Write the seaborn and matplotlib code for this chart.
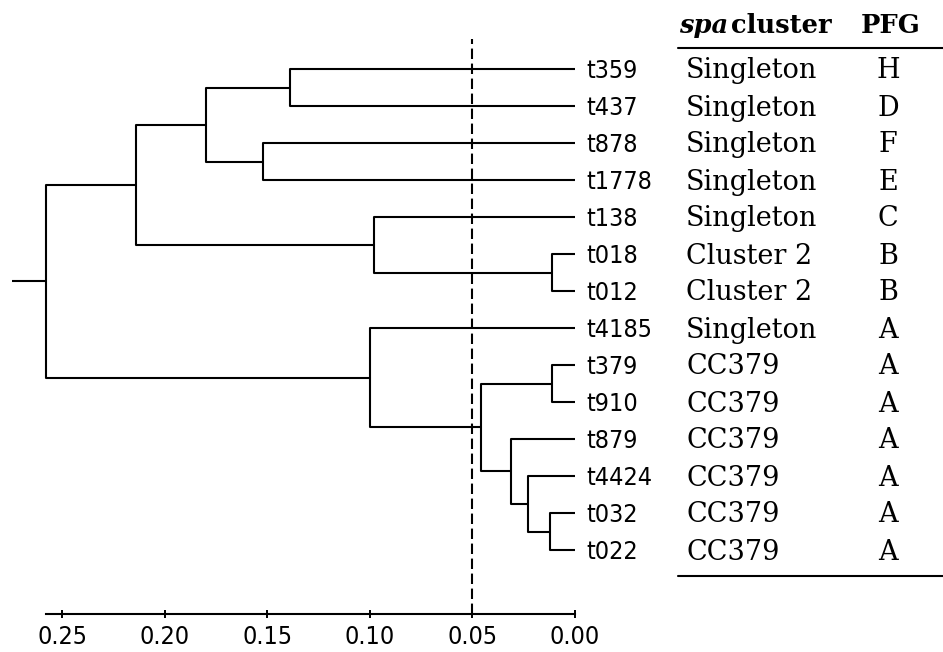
import numpy as np
import pandas as pd
import matplotlib
matplotlib.use("Agg")
import matplotlib.pyplot as plt
import matplotlib.transforms as mtransforms
from matplotlib.lines import Line2D
import seaborn as sns

# ---------------- data ----------------
leaves = ["t359", "t437", "t878", "t1778", "t138", "t018", "t012",
          "t4185", "t379", "t910", "t879", "t4424", "t032", "t022"]
# merges: children are leaf names or "n<k>" (earlier merge), heights = distance
merge_left = ["t359", "t878", "n0", "t018", "t138", "n2",
              "t379", "t032", "t4424", "t879", "n6", "t4185", "n5"]
merge_right = ["t437", "t1778", "n1", "t012", "n3", "n4",
               "t910", "t022", "n7", "n8", "n9", "n10", "n11"]
merge_height = [0.139, 0.152, 0.180, 0.011, 0.098, 0.214,
                0.011, 0.012, 0.023, 0.031, 0.046, 0.100, 0.258]
spa_cluster = ["Singleton", "Singleton", "Singleton", "Singleton", "Singleton",
               "Cluster 2", "Cluster 2", "Singleton", "CC379", "CC379",
               "CC379", "CC379", "CC379", "CC379"]
pfg = ["H", "D", "F", "E", "C", "B", "B", "A", "A", "A", "A", "A", "A", "A"]
x_ticks = [0.25, 0.20, 0.15, 0.10, 0.05, 0.00]
x_tick_labels = ["0.25", "0.20", "0.15", "0.10", "0.05", "0.00"]
cutoff = 0.05

# ---------------- layout of tree ----------------
pos = {name: (0.0, float(i)) for i, name in enumerate(leaves)}
rows = []
for k, (a, b, h) in enumerate(zip(merge_left, merge_right, merge_height)):
    xa, ya = pos[a]
    xb, yb = pos[b]
    for px, py in [(xa, ya), (h, ya), (h, yb), (xb, yb)]:
        rows.append({"x": px, "y": py, "seg": k})
    pos[f"n{k}"] = (h, (ya + yb) / 2)
root_x, root_y = pos[f"n{len(merge_height) - 1}"]

W, H = 943, 652
sns.set_style("white")
plt.rcParams["font.family"] = ["DejaVu Sans"]
plt.rcParams["text.color"] = "black"
plt.rcParams["xtick.color"] = "black"
plt.rcParams["axes.labelcolor"] = "black"
fig = plt.figure(figsize=(W / 100, H / 100), dpi=100)

ax_l, ax_r, ax_t, ax_b = 12, 575, 39, 614
ax = fig.add_axes([ax_l / W, 1 - ax_b / H, (ax_r - ax_l) / W, (ax_b - ax_t) / H])

px_per_unit = (575 - 62) / 0.25
ax.set_xlim((ax_r - ax_l) / px_per_unit, 0)
leaf_px0, leaf_dpx = 69, 37.0
ax.set_ylim((ax_b - leaf_px0) / leaf_dpx, (ax_t - leaf_px0) / leaf_dpx)

# root stub
xl = ax.get_xlim()[0]
rows.append({"x": xl, "y": root_y, "seg": 999})
rows.append({"x": root_x, "y": root_y, "seg": 999})
df = pd.DataFrame(rows)

sns.lineplot(data=df, x="x", y="y", units="seg", estimator=None, sort=False,
             color="black", lw=1.5, ax=ax, legend=False)

ax.axvline(cutoff, color="black", lw=1.5, ls=(0, (5, 2.2)))

for s in ["top", "left", "right"]:
    ax.spines[s].set_visible(False)
ax.spines["bottom"].set_bounds(0, root_x)
ax.spines["bottom"].set_linewidth(1.5)
ax.spines["bottom"].set_color("black")
ax.set_xticks(x_ticks)
ax.set_xticklabels(x_tick_labels)
ax.set_yticks([])
ax.set_xlabel("")
ax.set_ylabel("")
ax.tick_params(axis="x", direction="inout", length=6, width=1.4, pad=5,
               labelsize=18, colors="black", bottom=True)
for lab in ax.get_xticklabels():
    lab.set_fontstretch("condensed")
    lab.set_family("DejaVu Sans")

# leaf labels
for i, name in enumerate(leaves):
    ax.annotate(name, xy=(0, i), xytext=(8, -6.6), textcoords="offset points",
                ha="left", va="baseline", fontsize=18, color="black",
                family="DejaVu Sans", fontstretch="condensed", annotation_clip=False)

# ---------------- table ----------------
serif = ["DejaVu Serif"]
blend = mtransforms.blended_transform_factory(fig.transFigure, ax.transData)
base = blend + mtransforms.ScaledTranslation(0, -9.5 / 100, fig.dpi_scale_trans)
for i, (c, p) in enumerate(zip(spa_cluster, pfg)):
    fig.text(686 / W, i, c, transform=base, ha="left", va="baseline",
             fontsize=19.5, family=serif, color="black")
    fig.text(888 / W, i, p, transform=base, ha="center", va="baseline",
             fontsize=19.5, family=serif, color="black")

fig.text(679 / W, 1 - 33 / H, "spa", ha="left", va="baseline",
         fontsize=18.5, family=serif, style="italic", weight="bold", color="black")
fig.text(731 / W, 1 - 33 / H, "cluster", ha="left", va="baseline",
         fontsize=18.5, family=serif, weight="bold", color="black")
fig.text(891 / W, 1 - 33 / H, "PFG", ha="center", va="baseline",
         fontsize=18.5, family=serif, weight="bold", color="black")

for yy in [48, 576]:
    fig.add_artist(Line2D([678 / W, 943 / W], [1 - yy / H, 1 - yy / H],
                          color="black", lw=1.5, transform=fig.transFigure))

fig.savefig("out.png", dpi=100, facecolor="white")
